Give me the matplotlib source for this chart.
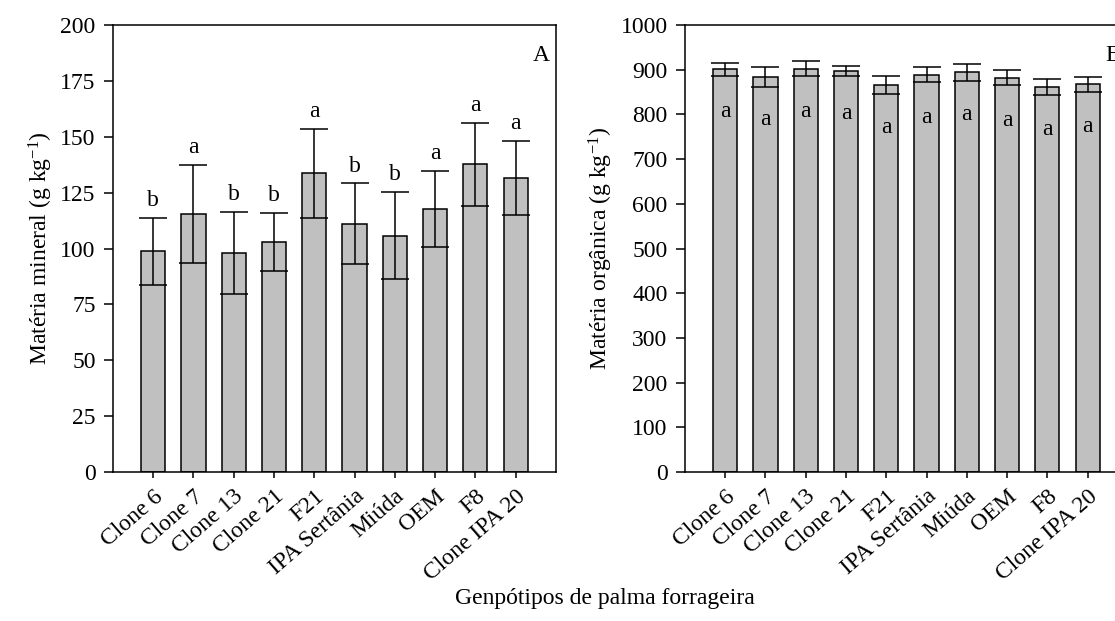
import matplotlib
matplotlib.use("Agg")
import matplotlib.pyplot as plt
import numpy as np

plt.rcParams['font.family'] = ['Liberation Serif', 'DejaVu Serif']
plt.rcParams['mathtext.fontset'] = 'custom'
plt.rcParams['mathtext.rm'] = 'Liberation Serif'
plt.rcParams['mathtext.it'] = 'Liberation Serif:italic'

# genótipos
genotipos = ["Clone 6", "Clone 7", "Clone 13", "Clone 21", "F21",
             "IPA Sertânia", "Miúda", "OEM", "F8", "Clone IPA 20"]

# matéria mineral (A)
mm = [98.8, 115.4, 98.1, 103.1, 133.6, 111.1, 105.7, 117.6, 137.7, 131.7]
mm_err = [15.0, 22.0, 18.3, 13.0, 19.8, 18.0, 19.5, 17.0, 18.5, 16.6]
mm_let = ["b", "a", "b", "b", "a", "b", "b", "a", "a", "a"]

# matéria orgânica (B)
mo = [900.6, 884.0, 902.0, 896.9, 865.5, 888.6, 893.9, 881.8, 861.7, 867.0]
mo_err = [15.0, 22.0, 17.0, 12.0, 19.5, 17.0, 19.0, 16.6, 18.0, 16.5]
mo_let = ["a"] * 10

fs = 17
fig = plt.figure(figsize=(11.15, 6.21), dpi=100)
ax1 = fig.add_axes([0.1013, 0.2399, 0.3973, 0.7198])
ax2 = fig.add_axes([0.6143, 0.2399, 0.3973, 0.7198])

x = np.arange(len(genotipos))


def painel(ax, vals, errs):
    ax.bar(x, vals, width=0.6, color="#c0c0c0", edgecolor="black", linewidth=1.1, zorder=2)
    ax.errorbar(x, vals, yerr=errs, fmt="none", ecolor="black", elinewidth=1.1,
                capsize=10, capthick=1.1, zorder=3)
    ax.set_xlim(-1, 10)
    ax.set_xticks(x)
    ax.set_xticklabels(genotipos, rotation=41, ha="right", rotation_mode="anchor", fontsize=fs)
    for s in ax.spines.values():
        s.set_linewidth(1.1)
    ax.tick_params(axis="y", direction="out", length=6.5, width=1.1, pad=6, labelsize=fs)
    ax.tick_params(axis="x", direction="out", length=4, width=1.1, pad=6, labelsize=fs)


painel(ax1, mm, mm_err)
ax1.set_ylim(0, 200)
ax1.set_yticks(np.arange(0, 201, 25))
ax1.set_ylabel("Matéria mineral (g kg$^{-1}$)", fontsize=fs, labelpad=4)
for xi, v, e, l in zip(x, mm, mm_err, mm_let):
    ax1.annotate(l, (xi, v + e), xytext=(0, 5), textcoords="offset points",
                 ha="center", va="bottom", fontsize=fs)
ax1.text(0.985, 0.955, "A", transform=ax1.transAxes, ha="right", va="top", fontsize=fs)

painel(ax2, mo, mo_err)
ax2.set_ylim(0, 1000)
ax2.set_yticks(np.arange(0, 1001, 100))
ax2.set_ylabel("Matéria orgânica (g kg$^{-1}$)", fontsize=fs, labelpad=4)
for xi, v, l in zip(x, mo, mo_let):
    ax2.text(xi, v - 95, l, ha="center", va="center", fontsize=fs, zorder=4)
ax2.text(0.985, 0.955, "B", transform=ax2.transAxes, ha="right", va="top", fontsize=fs)

fig.text(0.5426, 0.02, "Genpótipos de palma forrageira", ha="center", va="bottom", fontsize=fs)

fig.savefig("out.png", dpi=100)
